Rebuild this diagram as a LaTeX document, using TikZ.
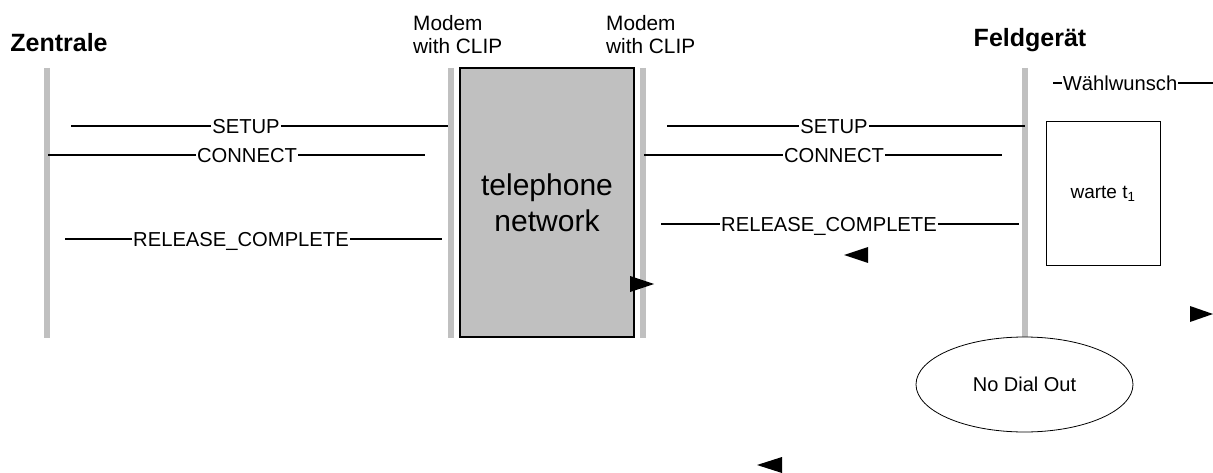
\documentclass[tikz,border=0pt]{standalone}
\usepackage{fontspec}
\setsansfont{Liberation Sans}
\usetikzlibrary{shapes}
\definecolor{lifegray}{RGB}{192,192,192}

\begin{document}
\begin{tikzpicture}[x = 1pt, y = -1pt, font=\sffamily]
	\tikzstyle{lifeStyle} = [draw = lifegray, line width = 5.5pt]
	\tikzstyle{msgStyle} = [inner xsep = 1pt, inner ysep = 0pt, text height = 14.5pt, text depth = 0pt, font = \sffamily\fontsize{20.2}{24}\selectfont]
	\tikzstyle{msgLine} = [line width = 1.5pt]
	\tikzstyle{titleStyle} = [inner sep = 0pt, anchor = base, font = \sffamily\bfseries\fontsize{25}{30}\selectfont]
	\tikzstyle{modemStyle} = [inner sep = 0pt, anchor = north west, align = left, font = \sffamily\fontsize{20.8}{23.5}\selectfont]
	\useasboundingbox (0,0) rectangle (1213,473);
	% titles
	\node[titleStyle] (zentrale) at (59,52) {Zentrale};
	\node[titleStyle] (feld) at (1030,47) {Feldgerät};
	\node[modemStyle] (modemL) at (413,15) {Modem\\with CLIP};
	\node[modemStyle] (modemR) at (606,15) {Modem\\with CLIP};
	% lifelines
	\coordinate (zt) at (47,68);   \coordinate (zb) at (47,338);
	\coordinate (mlt) at (451,68); \coordinate (mlb) at (451,338);
	\coordinate (mrt) at (643,68); \coordinate (mrb) at (643,338);
	\coordinate (ft) at (1025,68); \coordinate (fb) at (1025,337);
	\draw[lifeStyle] (zt) -- (zb);
	\draw[lifeStyle] (mlt) -- (mlb);
	\draw[lifeStyle] (mrt) -- (mrb);
	\draw[lifeStyle] (ft) -- (fb);
	% boxes
	\node[draw, line width = 1.5pt, fill = lifegray, minimum width = 174pt, minimum height = 269pt, align = center, font = \sffamily\fontsize{30}{36}\selectfont] (net) at (547,202.5) {telephone\\network};
	\node[draw, line width = 1pt, minimum width = 114pt, minimum height = 143pt, font = \sffamily\fontsize{19}{22}\selectfont] (warte) at (1103,193.5) {warte t\textsubscript{1}};
	\node[ellipse, draw, line width = 0.8pt, minimum width = 217pt, minimum height = 95pt, font = \sffamily\fontsize{20}{24}\selectfont] (nodial) at (1024.5,384.5) {No Dial Out};
	% messages left
	\coordinate (s1a) at (71,126);  \coordinate (s1b) at (448,126);
	\coordinate (c1a) at (48,155);  \coordinate (c1b) at (425,155);
	\coordinate (r1a) at (65,239);  \coordinate (r1b) at (442,239);
	\node[msgStyle] (setupL) at (246,126) {SETUP};
	\node[msgStyle] (connL) at (247,155) {CONNECT};
	\node[msgStyle] (relL) at (241,239) {RELEASE\_COMPLETE};
	\draw[msgLine] (s1a) -- (setupL.west) (setupL.east) -- (s1b);
	\draw[msgLine] (c1a) -- (connL.west) (connL.east) -- (c1b);
	\draw[msgLine] (r1a) -- (relL.west) (relL.east) -- (r1b);
	% messages right
	\coordinate (s2a) at (667,126);  \coordinate (s2b) at (1025,126);
	\coordinate (c2a) at (644,155);  \coordinate (c2b) at (1002,155);
	\coordinate (r2a) at (661,224);  \coordinate (r2b) at (1019,224);
	\coordinate (wa) at (1053,83);   \coordinate (wb) at (1213,83);
	\node[msgStyle] (setupR) at (834,126) {SETUP};
	\node[msgStyle] (connR) at (834,155) {CONNECT};
	\node[msgStyle] (relR) at (829,224) {RELEASE\_COMPLETE};
	\node[msgStyle] (wahl) at (1120,83) {Wählwunsch};
	\draw[msgLine] (s2a) -- (setupR.west) (setupR.east) -- (s2b);
	\draw[msgLine] (c2a) -- (connR.west) (connR.east) -- (c2b);
	\draw[msgLine] (r2a) -- (relR.west) (relR.east) -- (r2b);
	\draw[msgLine] (wa) -- (wahl.west) (wahl.east) -- (wb);
	% loose arrow tips
	\fill (630,276) -- (654,284) -- (630,292) -- cycle;
	\fill (868,247) -- (844,255) -- (868,263) -- cycle;
	\fill (1190,306) -- (1213,314) -- (1190,322) -- cycle;
	\fill (782,457) -- (757,465) -- (782,473) -- cycle;
\end{tikzpicture}
\end{document}
